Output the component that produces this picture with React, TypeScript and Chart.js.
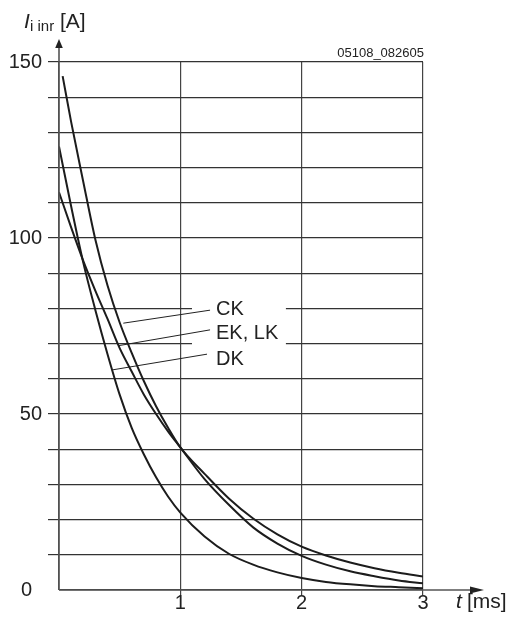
import React, { useEffect, useRef } from 'react';
import { Chart, registerables } from 'chart.js';

Chart.register(...registerables);

// ---- data ----
const times = [0, 0.1, 0.2, 0.3, 0.4, 0.5, 0.6, 0.7, 0.8, 0.9, 1.0, 1.2, 1.4, 1.6, 1.8, 2.0, 2.2, 2.4, 2.6, 2.8, 3.0];
const timesCK = [0.03, 0.1, 0.2, 0.3, 0.4, 0.5, 0.6, 0.7, 0.8, 0.9, 1.0, 1.2, 1.4, 1.6, 1.8, 2.0, 2.2, 2.4, 2.6, 2.8, 3.0];
const valuesCK = [146, 133, 116, 99.5, 86.5, 76, 67.3, 59.3, 52.2, 46, 40.5, 33, 26, 20.3, 15.8, 12.3, 9.8, 7.8, 6.2, 4.9, 3.8];
const valuesEK = [113, 103, 93.5, 85, 77, 68.7, 62, 55.5, 50, 45, 40.5, 31.5, 24.2, 17.8, 13.2, 9.7, 7.2, 5.3, 3.9, 2.7, 1.9];
const valuesDK = [126, 109, 93, 79.5, 67, 55.5, 46, 38.5, 32, 26.5, 22, 15.2, 10.3, 7.2, 5, 3.4, 2.3, 1.6, 1.1, 0.8, 0.5];
const seriesNames = ['CK', 'EK, LK', 'DK'];
const yTickLabels = [0, 50, 100, 150];
const xTickLabels = [1, 2, 3];

// annotation anchors in data units (t [ms], I [A])
const labelT = [1.294, 1.294, 1.294];
const labelI = [79.8, 73, 65.6];
const leaderStartT = [0.53, 0.489, 0.434];
const leaderStartI = [75.8, 69.4, 62.5];
const leaderEndT = [1.245, 1.245, 1.22];
const leaderEndI = [79.5, 73.9, 67];
const gapT = [1.096, 1.87];
const gapI = [66, 83];

const FONT = '"Liberation Sans", Arial, Helvetica, sans-serif';
const INK = '#222';

const decor = {
  id: 'decor',
  beforeDatasetsDraw(chart: any) {
    const { ctx, scales } = chart;
    const x = scales.x, y = scales.y;
    ctx.save();
    ctx.fillStyle = '#fff';
    const x0 = x.getPixelForValue(gapT[0]);
    const x1 = x.getPixelForValue(gapT[1]);
    const y0 = y.getPixelForValue(gapI[1]);
    const y1 = y.getPixelForValue(gapI[0]);
    ctx.fillRect(x0, y0, x1 - x0, y1 - y0);
    ctx.restore();
  },
  afterDraw(chart: any) {
    const { ctx, scales, chartArea } = chart;
    const x = scales.x, y = scales.y;
    const left = chartArea.left, bottom = chartArea.bottom;
    ctx.save();
    // axes
    ctx.strokeStyle = '#555';
    ctx.fillStyle = '#222';
    ctx.lineWidth = 1.6;
    ctx.beginPath();
    ctx.moveTo(left, bottom);
    ctx.lineTo(left, 46);
    ctx.moveTo(left, bottom);
    ctx.lineTo(472, bottom);
    ctx.stroke();
    ctx.beginPath();
    ctx.moveTo(left, 39);
    ctx.lineTo(left - 3.8, 48);
    ctx.lineTo(left + 3.8, 48);
    ctx.closePath();
    ctx.fill();
    ctx.beginPath();
    ctx.moveTo(484, bottom);
    ctx.lineTo(470, bottom - 3.6);
    ctx.lineTo(470, bottom + 3.6);
    ctx.closePath();
    ctx.fill();

    // leader lines
    ctx.strokeStyle = '#222';
    ctx.lineWidth = 1;
    for (let i = 0; i < seriesNames.length; i++) {
      ctx.beginPath();
      ctx.moveTo(x.getPixelForValue(leaderStartT[i]), y.getPixelForValue(leaderStartI[i]));
      ctx.lineTo(x.getPixelForValue(leaderEndT[i]), y.getPixelForValue(leaderEndI[i]));
      ctx.stroke();
    }
    // series labels
    ctx.fillStyle = INK;
    ctx.font = `20px ${FONT}`;
    ctx.textAlign = 'left';
    ctx.textBaseline = 'middle';
    for (let i = 0; i < seriesNames.length; i++) {
      ctx.fillText(seriesNames[i], x.getPixelForValue(labelT[i]), y.getPixelForValue(labelI[i]));
    }

    // code label
    ctx.font = `13px ${FONT}`;
    ctx.textAlign = 'right';
    ctx.textBaseline = 'alphabetic';
    ctx.fillText('05108_082605', chartArea.right + 1, 57);

    // y axis title
    ctx.textAlign = 'left';
    ctx.font = `italic 21px ${FONT}`;
    ctx.fillText('I', 24, 28);
    ctx.font = `15px ${FONT}`;
    ctx.fillText('i inr', 30, 31);
    ctx.font = `21px ${FONT}`;
    ctx.fillText('[A]', 60, 28);

    // x axis title
    ctx.textBaseline = 'middle';
    ctx.font = `italic 21px ${FONT}`;
    ctx.fillText('t', 456, 602);
    ctx.font = `21px ${FONT}`;
    ctx.fillText('[ms]', 467, 602);
    ctx.restore();
  },
};

export default function App() {
  const ref = useRef<HTMLCanvasElement | null>(null);
  useEffect(() => {
    if (!ref.current) return;
    const line = (ts: number[], vs: number[], name: string) => ({
      label: name,
      data: ts.map((t, i) => ({ x: t, y: vs[i] })),
      borderColor: '#1c1c1c',
      borderWidth: 2,
      pointRadius: 0,
      fill: false,
      cubicInterpolationMode: 'monotone' as const,
    });
    const chart = new Chart(ref.current, {
      type: 'line',
      data: {
        datasets: [
          line(timesCK, valuesCK, seriesNames[0]),
          line(times, valuesEK, seriesNames[1]),
          line(times, valuesDK, seriesNames[2]),
        ],
      },
      options: {
        animation: false,
        responsive: true,
        maintainAspectRatio: false,
        layout: { padding: { left: 0, top: 62, right: 86, bottom: 0 } },
        plugins: { legend: { display: false }, tooltip: { enabled: false } },
        scales: {
          x: {
            type: 'linear',
            min: 0,
            max: 3,
            afterFit: (s: any) => { s.height = 29; },
            border: { display: false },
            grid: {
              color: '#444',
              lineWidth: 1.2,
              tickLength: 5,
              tickColor: (c: any) => (c.tick && c.tick.value === 0 ? 'rgba(0,0,0,0)' : '#444'),
            },
            ticks: {
              stepSize: 1,
              autoSkip: false,
              maxRotation: 0,
              padding: -4,
              color: INK,
              font: { family: FONT, size: 20 },
              callback: (v: any) => (xTickLabels.includes(Number(v)) ? String(v) : ''),
            },
          },
          y: {
            type: 'linear',
            min: 0,
            max: 150,
            afterFit: (s: any) => { s.width = 59; },
            border: { display: false },
            grid: {
              color: '#333',
              lineWidth: 1.2,
              tickLength: 11,
              tickColor: (c: any) => (c.tick && c.tick.value === 0 ? 'rgba(0,0,0,0)' : '#333'),
            },
            ticks: {
              stepSize: 10,
              autoSkip: false,
              padding: 6,
              color: INK,
              font: { family: FONT, size: 20 },
              callback: (v: any) => {
                const n = Number(v);
                if (!yTickLabels.includes(n)) return '';
                return n === 0 ? '0\u2002' : String(n);
              },
            },
          },
        },
      },
      plugins: [decor],
    });
    return () => chart.destroy();
  }, []);
  return (
    <div style={{ position: 'fixed', left: 0, top: 0, width: 509, height: 619, background: '#fff' }}>
      <canvas ref={ref} />
    </div>
  );
}
